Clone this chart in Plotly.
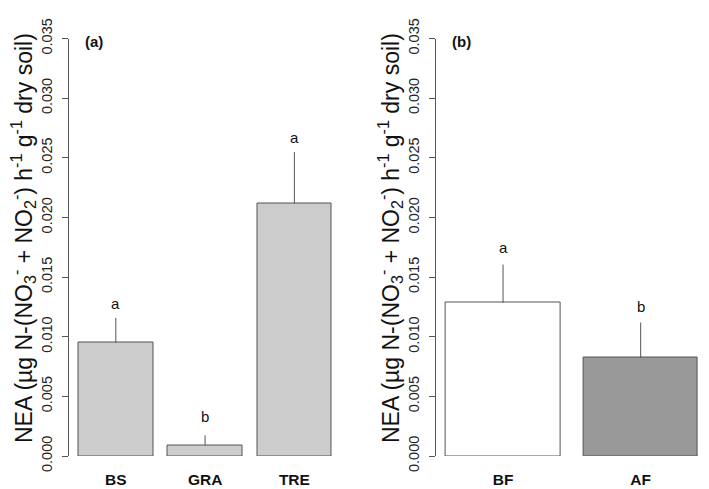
import plotly.graph_objects as go

# ---- data ----
cats_a = ["BS", "GRA", "TRE"]
mean_a = [0.00949, 0.00090, 0.02116]
err_a = [0.00209, 0.00083, 0.00432]
letters_a = ["a", "b", "a"]
letter_y_a = [0.01279, 0.00329, 0.02669]
colors_a = ["#cccccc", "#cccccc", "#cccccc"]

cats_b = ["BF", "AF"]
mean_b = [0.01284, 0.00823]
err_b = [0.00321, 0.00296]
letters_b = ["a", "b"]
letter_y_b = [0.01747, 0.01250]
colors_b = ["#ffffff", "#999999"]

ytick_vals = [0.000, 0.005, 0.010, 0.015, 0.020, 0.025, 0.030, 0.035]
ytick_text = ["0.000", "0.005", "0.010", "0.015", "0.020", "0.025", "0.030", "0.035"]

ytitle = ("NEA (µg N-(NO<sub>3</sub><sup>-</sup> + NO<sub>2</sub><sup>-</sup>) "
          "h<sup>-1</sup> g<sup>-1</sup> dry soil)")

W, H = 709, 489
OFF = 8  # page body margin of the html page
FONT = "Liberation Sans, Arial, sans-serif"
EDGE = "#555555"


def px_x(p):
    return (p - OFF) / W


def px_y(p):
    return (H - (p - OFF)) / H


def centers(n):
    # R barplot layout: width 1, space 0.2
    return [0.7 + 1.2 * i for i in range(n)]


xa = centers(len(cats_a))
xb = centers(len(cats_b))

fig = go.Figure()
fig.add_trace(go.Bar(
    x=xa, y=mean_a, width=1.0, marker=dict(color=colors_a, line=dict(color=EDGE, width=1)),
    error_y=dict(type="data", array=err_a, arrayminus=[0] * len(err_a), symmetric=False,
                 color=EDGE, thickness=1, width=0),
    xaxis="x", yaxis="y", showlegend=False))
fig.add_trace(go.Bar(
    x=xb, y=mean_b, width=1.0, marker=dict(color=colors_b, line=dict(color=EDGE, width=1)),
    error_y=dict(type="data", array=err_b, arrayminus=[0] * len(err_b), symmetric=False,
                 color=EDGE, thickness=1, width=0),
    xaxis="x2", yaxis="y2", showlegend=False))

ydom = [px_y(456), px_y(38.5)]
yax = dict(range=[0, 0.035], domain=ydom, tickvals=ytick_vals, ticktext=ytick_text,
           tickangle=-90, ticks="outside", ticklen=6, tickcolor=EDGE, tickwidth=1,
           showline=True, linecolor=EDGE, linewidth=1, showgrid=False, zeroline=False,
           automargin=False,
           tickfont=dict(family=FONT, size=14.5, color="#222"), ticklabelstandoff=4)

xcommon = dict(ticks="", showline=False, showgrid=False, zeroline=False, automargin=False,
               tickfont=dict(family=FONT, size=15.5, color="#111"), ticklabelstandoff=12)

fig.update_layout(
    template="none",
    width=W, height=H, margin=dict(l=0, r=0, t=0, b=0, autoexpand=False),
    paper_bgcolor="white", plot_bgcolor="white",
    xaxis=dict(range=[0.064, 3.736], domain=[px_x(68.5), px_x(341.7)], tickvals=xa,
               ticktext=["<b>%s</b>" % c for c in cats_a], anchor="y", **xcommon),
    yaxis=dict(anchor="x", **yax),
    xaxis2=dict(range=[0.112, 2.488], domain=[px_x(435.6), px_x(708.1)], tickvals=xb,
                ticktext=["<b>%s</b>" % c for c in cats_b], anchor="y2", **xcommon),
    yaxis2=dict(anchor="x2", **yax),
    bargap=0,
)

ann = []
for x, y, t in zip(xa, letter_y_a, letters_a):
    ann.append(dict(x=x, y=y, xref="x", yref="y", text=t, showarrow=False,
                    xanchor="center", yanchor="middle",
                    font=dict(family=FONT, size=15, color="#111")))
for x, y, t in zip(xb, letter_y_b, letters_b):
    ann.append(dict(x=x, y=y, xref="x2", yref="y2", text=t, showarrow=False,
                    xanchor="center", yanchor="middle",
                    font=dict(family=FONT, size=15, color="#111")))
for xc, lab in [(94, "(a)"), (461, "(b)")]:
    ann.append(dict(x=px_x(xc), y=px_y(41.7), xref="paper", yref="paper",
                    text="<b>%s</b>" % lab, showarrow=False,
                    xanchor="center", yanchor="middle",
                    font=dict(family=FONT, size=15, color="#111")))
for xc in [23, 390]:
    ann.append(dict(x=px_x(xc), y=px_y(238), xref="paper", yref="paper", text=ytitle,
                    textangle=-90, showarrow=False, xanchor="center", yanchor="middle",
                    font=dict(family=FONT, size=23, color="#111")))
fig.update_layout(annotations=ann)

fig.write_html("out.html")
